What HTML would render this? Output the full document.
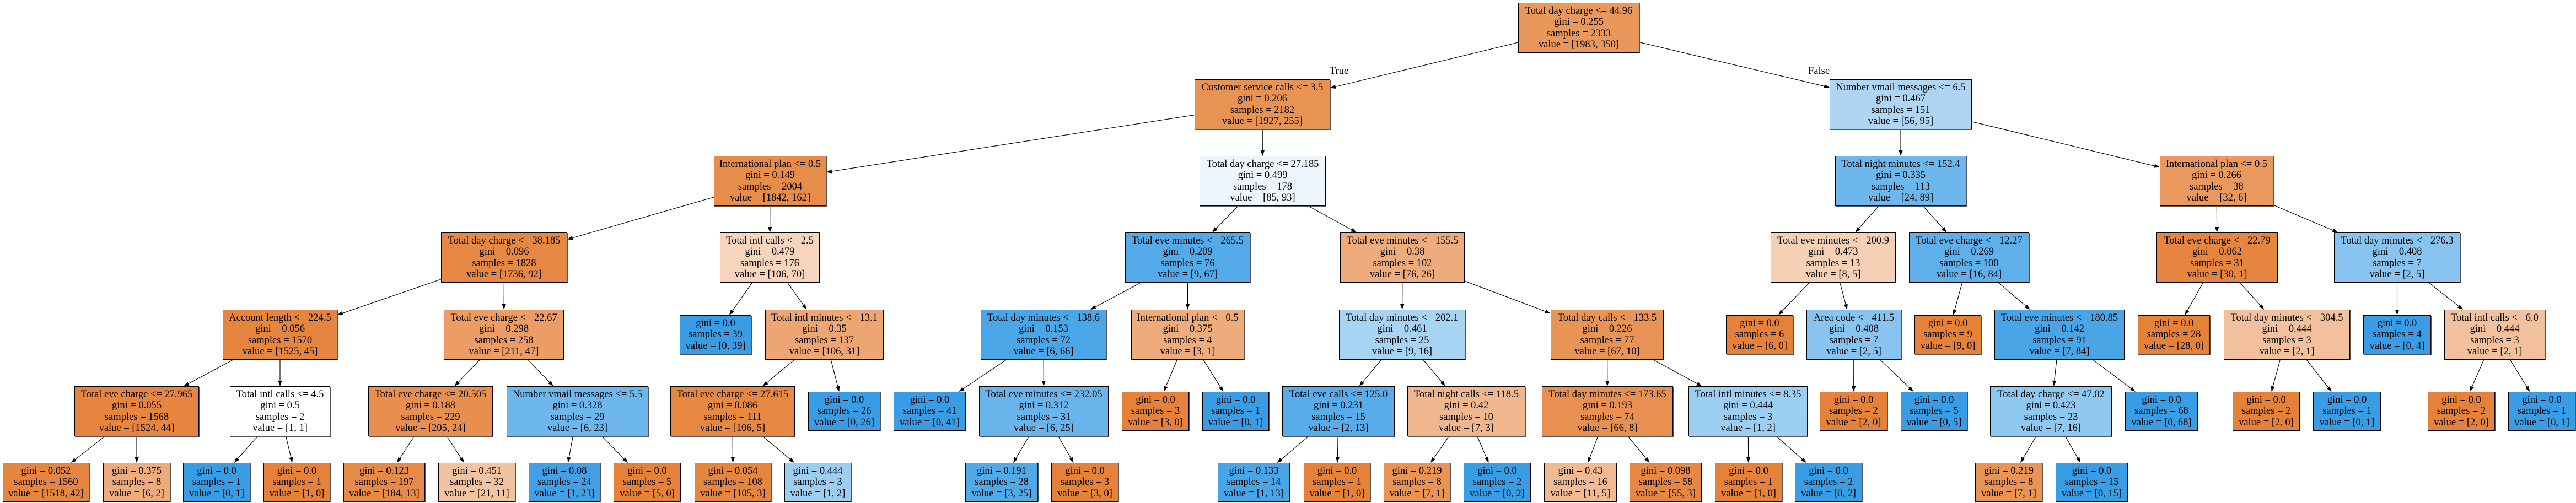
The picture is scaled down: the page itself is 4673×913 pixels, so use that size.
<!DOCTYPE html>
<html><head><meta charset="utf-8">
<style>
html,body{margin:0;padding:0;background:#fff;}
#c{position:relative;width:4673px;height:913px;overflow:hidden;background:#fff;}
svg{position:absolute;left:0;top:0;}
.n{position:absolute;box-sizing:border-box;border:1px solid #000;text-align:center;font-family:"Liberation Serif",serif;font-size:18.5px;line-height:20.5px;display:flex;flex-direction:column;justify-content:center;white-space:nowrap;color:#000;z-index:2;box-shadow:1px 1px 0 #555;}
.i{height:91px;}
.l{height:71px;}
.lab{position:absolute;font-family:"Liberation Serif",serif;font-size:18.5px;line-height:20px;}
</style></head><body><div id="c">
<svg id="s" width="4673" height="913"></svg>
<div class="lab" style="left:2412px;top:119px">True</div>
<div class="lab" style="left:3280px;top:119px">False</div>

<div class="n i" id="n1" style="left:2754px;top:5px;width:220px;background:#ea975c">Total day charge &lt;= 44.96<br>gini = 0.255<br>samples = 2333<br>value = [1983, 350]</div>
<div class="n i" id="n2" style="left:2167px;top:144px;width:246px;background:#e89253">Customer service calls &lt;= 3.5<br>gini = 0.206<br>samples = 2182<br>value = [1927, 255]</div>
<div class="n i" id="n3" style="left:3319px;top:144px;width:258px;background:#aed5f4">Number vmail messages &lt;= 6.5<br>gini = 0.467<br>samples = 151<br>value = [56, 95]</div>
<div class="n i" id="n4" style="left:1295px;top:283px;width:204px;background:#e78c4a">International plan &lt;= 0.5<br>gini = 0.149<br>samples = 2004<br>value = [1842, 162]</div>
<div class="n i" id="n5" style="left:2176px;top:283px;width:229px;background:#eef6fd">Total day charge &lt;= 27.185<br>gini = 0.499<br>samples = 178<br>value = [85, 93]</div>
<div class="n i" id="n6" style="left:3329px;top:283px;width:238px;background:#6eb7ec">Total night minutes &lt;= 152.4<br>gini = 0.335<br>samples = 113<br>value = [24, 89]</div>
<div class="n i" id="n7" style="left:3918px;top:283px;width:206px;background:#ea995e">International plan &lt;= 0.5<br>gini = 0.266<br>samples = 38<br>value = [32, 6]</div>

<div class="n i" id="n8" style="left:800px;top:422px;width:229px;background:#e68844">Total day charge &lt;= 38.185<br>gini = 0.096<br>samples = 1828<br>value = [1736, 92]</div>
<div class="n i" id="n9" style="left:1306px;top:422px;width:181px;background:#f6d5bc">Total intl calls &lt;= 2.5<br>gini = 0.479<br>samples = 176<br>value = [106, 70]</div>
<div class="n i" id="n10" style="left:2041px;top:422px;width:227px;background:#54aae8">Total eve minutes &lt;= 265.5<br>gini = 0.209<br>samples = 76<br>value = [9, 67]</div>
<div class="n i" id="n11" style="left:2431px;top:422px;width:226px;background:#eeac7d">Total eve minutes &lt;= 155.5<br>gini = 0.38<br>samples = 102<br>value = [76, 26]</div>
<div class="n i" id="n12" style="left:3212px;top:422px;width:227px;background:#f5d0b5">Total eve minutes &lt;= 200.9<br>gini = 0.473<br>samples = 13<br>value = [8, 5]</div>
<div class="n i" id="n13" style="left:3463px;top:422px;width:218px;background:#5fb0ea">Total eve charge &lt;= 12.27<br>gini = 0.269<br>samples = 100<br>value = [16, 84]</div>
<div class="n i" id="n14" style="left:3912px;top:422px;width:220px;background:#e68540">Total eve charge &lt;= 22.79<br>gini = 0.062<br>samples = 31<br>value = [30, 1]</div>
<div class="n i" id="n15" style="left:4234px;top:422px;width:229px;background:#88c4ef">Total day minutes &lt;= 276.3<br>gini = 0.408<br>samples = 7<br>value = [2, 5]</div>

<div class="n i" id="n16" style="left:404px;top:562px;width:208px;background:#e6853f">Account length &lt;= 224.5<br>gini = 0.056<br>samples = 1570<br>value = [1525, 45]</div>
<div class="n i" id="n17" style="left:805px;top:562px;width:218px;background:#eb9d65">Total eve charge &lt;= 22.67<br>gini = 0.298<br>samples = 258<br>value = [211, 47]</div>
<div class="n l" id="n18" style="left:1233px;top:572px;width:130px;background:#399de5">gini = 0.0<br>samples = 39<br>value = [0, 39]</div>
<div class="n i" id="n19" style="left:1388px;top:562px;width:215px;background:#eda673">Total intl minutes &lt;= 13.1<br>gini = 0.35<br>samples = 137<br>value = [106, 31]</div>
<div class="n i" id="n20" style="left:1779px;top:562px;width:228px;background:#4ba6e7">Total day minutes &lt;= 138.6<br>gini = 0.153<br>samples = 72<br>value = [6, 66]</div>
<div class="n i" id="n21" style="left:2052px;top:562px;width:205px;background:#eeab7b">International plan &lt;= 0.5<br>gini = 0.375<br>samples = 4<br>value = [3, 1]</div>
<div class="n i" id="n22" style="left:2429px;top:562px;width:229px;background:#a8d4f4">Total day minutes &lt;= 202.1<br>gini = 0.461<br>samples = 25<br>value = [9, 16]</div>
<div class="n i" id="n23" style="left:2813px;top:562px;width:205px;background:#e99457">Total day calls &lt;= 133.5<br>gini = 0.226<br>samples = 77<br>value = [67, 10]</div>
<div class="n l" id="n24" style="left:3131px;top:572px;width:122px;background:#e58139">gini = 0.0<br>samples = 6<br>value = [6, 0]</div>
<div class="n i" id="n25" style="left:3277px;top:562px;width:172px;background:#88c4ef">Area code &lt;= 411.5<br>gini = 0.408<br>samples = 7<br>value = [2, 5]</div>
<div class="n l" id="n26" style="left:3473px;top:572px;width:121px;background:#e58139">gini = 0.0<br>samples = 9<br>value = [9, 0]</div>
<div class="n i" id="n27" style="left:3618px;top:562px;width:236px;background:#4aa5e7">Total eve minutes &lt;= 180.85<br>gini = 0.142<br>samples = 91<br>value = [7, 84]</div>
<div class="n l" id="n28" style="left:3878px;top:572px;width:131px;background:#e58139">gini = 0.0<br>samples = 28<br>value = [28, 0]</div>
<div class="n i" id="n29" style="left:4034px;top:562px;width:229px;background:#f2c09c">Total day minutes &lt;= 304.5<br>gini = 0.444<br>samples = 3<br>value = [2, 1]</div>
<div class="n l" id="n30" style="left:4287px;top:572px;width:123px;background:#399de5">gini = 0.0<br>samples = 4<br>value = [0, 4]</div>
<div class="n i" id="n31" style="left:4434px;top:562px;width:183px;background:#f2c09c">Total intl calls &lt;= 6.0<br>gini = 0.444<br>samples = 3<br>value = [2, 1]</div>

<div class="n i" id="n32" style="left:135px;top:701px;width:226px;background:#e6853f">Total eve charge &lt;= 27.965<br>gini = 0.055<br>samples = 1568<br>value = [1524, 44]</div>
<div class="n i" id="n33" style="left:417px;top:701px;width:182px;background:#ffffff">Total intl calls &lt;= 4.5<br>gini = 0.5<br>samples = 2<br>value = [1, 1]</div>
<div class="n i" id="n34" style="left:668px;top:701px;width:226px;background:#e88f50">Total eve charge &lt;= 20.505<br>gini = 0.188<br>samples = 229<br>value = [205, 24]</div>
<div class="n i" id="n35" style="left:919px;top:701px;width:257px;background:#6db7ec">Number vmail messages &lt;= 5.5<br>gini = 0.328<br>samples = 29<br>value = [6, 23]</div>
<div class="n i" id="n36" style="left:1216px;top:701px;width:226px;background:#e68742">Total eve charge &lt;= 27.615<br>gini = 0.086<br>samples = 111<br>value = [106, 5]</div>
<div class="n l" id="n37" style="left:1466px;top:711px;width:131px;background:#399de5">gini = 0.0<br>samples = 26<br>value = [0, 26]</div>
<div class="n l" id="n38" style="left:1621px;top:711px;width:131px;background:#399de5">gini = 0.0<br>samples = 41<br>value = [0, 41]</div>
<div class="n i" id="n39" style="left:1776px;top:701px;width:235px;background:#68b4eb">Total eve minutes &lt;= 232.05<br>gini = 0.312<br>samples = 31<br>value = [6, 25]</div>
<div class="n l" id="n40" style="left:2035px;top:711px;width:122px;background:#e58139">gini = 0.0<br>samples = 3<br>value = [3, 0]</div>
<div class="n l" id="n41" style="left:2181px;top:711px;width:121px;background:#399de5">gini = 0.0<br>samples = 1<br>value = [0, 1]</div>
<div class="n i" id="n42" style="left:2326px;top:701px;width:204px;background:#58ace9">Total eve calls &lt;= 125.0<br>gini = 0.231<br>samples = 15<br>value = [2, 13]</div>
<div class="n i" id="n43" style="left:2553px;top:701px;width:214px;background:#f0b78e">Total night calls &lt;= 118.5<br>gini = 0.42<br>samples = 10<br>value = [7, 3]</div>
<div class="n i" id="n44" style="left:2797px;top:701px;width:238px;background:#e89051">Total day minutes &lt;= 173.65<br>gini = 0.193<br>samples = 74<br>value = [66, 8]</div>
<div class="n i" id="n45" style="left:3063px;top:701px;width:216px;background:#9ccef2">Total intl minutes &lt;= 8.35<br>gini = 0.444<br>samples = 3<br>value = [1, 2]</div>
<div class="n l" id="n46" style="left:3301px;top:711px;width:123px;background:#e58139">gini = 0.0<br>samples = 2<br>value = [2, 0]</div>
<div class="n l" id="n47" style="left:3448px;top:711px;width:121px;background:#399de5">gini = 0.0<br>samples = 5<br>value = [0, 5]</div>
<div class="n i" id="n48" style="left:3610px;top:701px;width:221px;background:#8fc8f0">Total day charge &lt;= 47.02<br>gini = 0.423<br>samples = 23<br>value = [7, 16]</div>
<div class="n l" id="n49" style="left:3855px;top:711px;width:132px;background:#399de5">gini = 0.0<br>samples = 68<br>value = [0, 68]</div>
<div class="n l" id="n50" style="left:4050px;top:711px;width:122px;background:#e58139">gini = 0.0<br>samples = 2<br>value = [2, 0]</div>
<div class="n l" id="n51" style="left:4196px;top:711px;width:123px;background:#399de5">gini = 0.0<br>samples = 1<br>value = [0, 1]</div>
<div class="n l" id="n52" style="left:4404px;top:711px;width:122px;background:#e58139">gini = 0.0<br>samples = 2<br>value = [2, 0]</div>
<div class="n l" id="n53" style="left:4550px;top:711px;width:122px;background:#399de5">gini = 0.0<br>samples = 1<br>value = [0, 1]</div>

<div class="n l" id="n54" style="left:5px;top:840px;width:157px;background:#e6853f">gini = 0.052<br>samples = 1560<br>value = [1518, 42]</div>
<div class="n l" id="n55" style="left:187px;top:840px;width:122px;background:#eeab7b">gini = 0.375<br>samples = 8<br>value = [6, 2]</div>
<div class="n l" id="n56" style="left:332px;top:840px;width:122px;background:#399de5">gini = 0.0<br>samples = 1<br>value = [0, 1]</div>
<div class="n l" id="n57" style="left:478px;top:840px;width:121px;background:#e58139">gini = 0.0<br>samples = 1<br>value = [1, 0]</div>
<div class="n l" id="n58" style="left:623px;top:840px;width:148px;background:#e78a47">gini = 0.123<br>samples = 197<br>value = [184, 13]</div>
<div class="n l" id="n59" style="left:795px;top:840px;width:140px;background:#f2c3a1">gini = 0.451<br>samples = 32<br>value = [21, 11]</div>
<div class="n l" id="n60" style="left:959px;top:840px;width:130px;background:#42a1e6">gini = 0.08<br>samples = 24<br>value = [1, 23]</div>
<div class="n l" id="n61" style="left:1113px;top:840px;width:122px;background:#e58139">gini = 0.0<br>samples = 5<br>value = [5, 0]</div>
<div class="n l" id="n62" style="left:1260px;top:840px;width:139px;background:#e6853f">gini = 0.054<br>samples = 108<br>value = [105, 3]</div>
<div class="n l" id="n63" style="left:1423px;top:840px;width:121px;background:#9ccef2">gini = 0.444<br>samples = 3<br>value = [1, 2]</div>
<div class="n l" id="n64" style="left:1751px;top:840px;width:132px;background:#51a9e8">gini = 0.191<br>samples = 28<br>value = [3, 25]</div>
<div class="n l" id="n65" style="left:1907px;top:840px;width:122px;background:#e58139">gini = 0.0<br>samples = 3<br>value = [3, 0]</div>
<div class="n l" id="n66" style="left:2209px;top:840px;width:131px;background:#48a5e7">gini = 0.133<br>samples = 14<br>value = [1, 13]</div>
<div class="n l" id="n67" style="left:2365px;top:840px;width:121px;background:#e58139">gini = 0.0<br>samples = 1<br>value = [1, 0]</div>
<div class="n l" id="n68" style="left:2510px;top:840px;width:121px;background:#e99355">gini = 0.219<br>samples = 8<br>value = [7, 1]</div>
<div class="n l" id="n69" style="left:2655px;top:840px;width:122px;background:#399de5">gini = 0.0<br>samples = 2<br>value = [0, 2]</div>
<div class="n l" id="n70" style="left:2801px;top:840px;width:132px;background:#f1ba93">gini = 0.43<br>samples = 16<br>value = [11, 5]</div>
<div class="n l" id="n71" style="left:2956px;top:840px;width:131px;background:#e68844">gini = 0.098<br>samples = 58<br>value = [55, 3]</div>
<div class="n l" id="n72" style="left:3111px;top:840px;width:122px;background:#e58139">gini = 0.0<br>samples = 1<br>value = [1, 0]</div>
<div class="n l" id="n73" style="left:3256px;top:840px;width:122px;background:#399de5">gini = 0.0<br>samples = 2<br>value = [0, 2]</div>
<div class="n l" id="n74" style="left:3583px;top:840px;width:122px;background:#e99355">gini = 0.219<br>samples = 8<br>value = [7, 1]</div>
<div class="n l" id="n75" style="left:3729px;top:840px;width:131px;background:#399de5">gini = 0.0<br>samples = 15<br>value = [0, 15]</div>
</div>
<script>
(function(){
var E=[[1,2],[1,3],[2,4],[2,5],[3,6],[3,7],[4,8],[4,9],[5,10],[5,11],[6,12],[6,13],[7,14],[7,15],
[8,16],[8,17],[9,18],[9,19],[10,20],[10,21],[11,22],[11,23],[12,24],[12,25],[13,26],[13,27],[14,28],[14,29],[15,30],[15,31],
[16,32],[16,33],[17,34],[17,35],[19,36],[19,37],[20,38],[20,39],[21,40],[21,41],[22,42],[22,43],[23,44],[23,45],[25,46],[25,47],[27,48],[27,49],[29,50],[29,51],[31,52],[31,53],
[32,54],[32,55],[33,56],[33,57],[34,58],[34,59],[35,60],[35,61],[36,62],[36,63],[39,64],[39,65],[42,66],[42,67],[43,68],[43,69],[44,70],[44,71],[45,72],[45,73],[48,74],[48,75]];
var s=document.getElementById('s'),NS='http://www.w3.org/2000/svg',out='';
function r(i){var e=document.getElementById('n'+i);var x=e.offsetLeft,y=e.offsetTop,w=e.offsetWidth,h=e.offsetHeight;return {cx:x+w/2,cy:y+h/2,hw:w/2,hh:h/2};}
function t(b,dx,dy){var a=Infinity;if(dx)a=Math.min(a,b.hw/Math.abs(dx));if(dy)a=Math.min(a,b.hh/Math.abs(dy));return a;}
E.forEach(function(p){var A=r(p[0]),B=r(p[1]);var dx=B.cx-A.cx,dy=B.cy-A.cy;
var ta=t(A,dx,dy),tb=t(B,dx,dy);
var x1=A.cx+dx*ta,y1=A.cy+dy*ta,x2=B.cx-dx*tb,y2=B.cy-dy*tb;
var L=Math.sqrt(dx*dx+dy*dy),ux=dx/L,uy=dy/L;
var bx=x2-ux*10,by=y2-uy*10,px=-uy*3.6,py=ux*3.6;
out+='<line x1="'+x1+'" y1="'+y1+'" x2="'+bx+'" y2="'+by+'" stroke="#000" stroke-width="1.1"/>';
out+='<polygon points="'+x2+','+y2+' '+(bx+px)+','+(by+py)+' '+(bx-px)+','+(by-py)+'" fill="#000"/>';
});
s.innerHTML=out;
})();
</script>
</body></html>
